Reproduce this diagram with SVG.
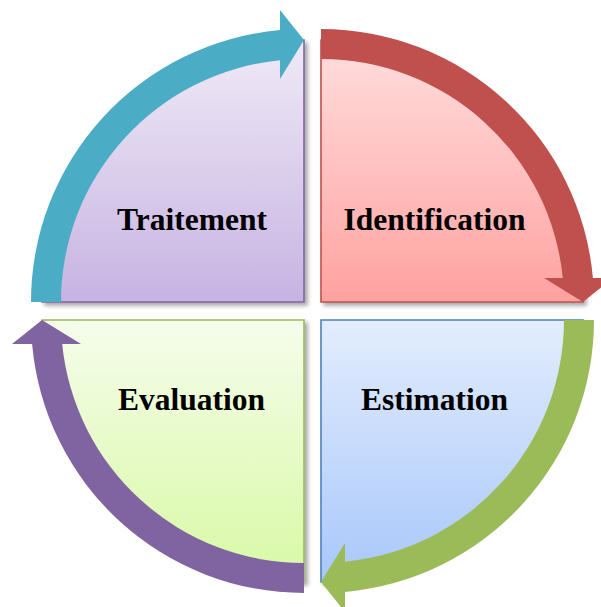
<svg xmlns="http://www.w3.org/2000/svg" width="601" height="607" viewBox="0 0 601 607">
<style>
.q{stroke-width:1.6;filter:url(#sh)}
.lbl{font-family:"Liberation Serif","Times New Roman",serif;font-weight:bold;font-size:31.5px;fill:#000;text-anchor:middle}
</style>
<defs>
<filter id="sh" x="-10%" y="-10%" width="125%" height="125%">
<feDropShadow dx="3" dy="3" stdDeviation="2.2" flood-color="#000" flood-opacity="0.35"/>
</filter>
<linearGradient id="gP" x1="0" y1="0" x2="0" y2="1"><stop offset="0" stop-color="#F0EAF7"/><stop offset="1" stop-color="#C7B3E2"/></linearGradient>
<linearGradient id="gR" x1="0" y1="0" x2="0" y2="1"><stop offset="0" stop-color="#FFDEDE"/><stop offset="1" stop-color="#FFA2A0"/></linearGradient>
<linearGradient id="gB" x1="0" y1="0" x2="0" y2="1"><stop offset="0" stop-color="#E3EDFD"/><stop offset="1" stop-color="#A8C7FB"/></linearGradient>
<linearGradient id="gG" x1="0" y1="0" x2="0" y2="1"><stop offset="0" stop-color="#F5FDEB"/><stop offset="1" stop-color="#D8F9A4"/></linearGradient>
</defs>
<g id="traitement">
<path class="q" d="M304,302 L42,302 A262,262 0 0 1 304,40 Z" fill="url(#gP)" stroke="#8064A2"/>
<text class="lbl" x="192" y="230">Traitement</text>
</g>
<g id="identification">
<path class="q" d="M321,302 L321,40 A262,262 0 0 1 583,302 Z" fill="url(#gR)" stroke="#C0504D"/>
<text class="lbl" x="434.5" y="230">Identification</text>
</g>
<g id="estimation">
<path class="q" d="M321,320 L583,320 A262,262 0 0 1 321,582 Z" fill="url(#gB)" stroke="#4F81BD"/>
<text class="lbl" x="434.5" y="410">Estimation</text>
</g>
<g id="evaluation">
<path class="q" d="M304,320 L304,582 A262,262 0 0 1 42,320 Z" fill="url(#gG)" stroke="#9BBB59"/>
<text class="lbl" x="191.5" y="410">Evaluation</text>
</g>
<g id="connectors">
<path d="M31,302 A273,273 0 0 1 280,30.1 L280,10 L304,40 L280,79 L280,60.2 A243,243 0 0 0 61,302 Z" fill="#4BACC6"/>
<path d="M321,29 A273,273 0 0 1 592.9,278 L613,278 L583,302 L544,278 L562.8,278 A243,243 0 0 0 321,59 Z" fill="#C0504D"/>
<path d="M594,320 A273,273 0 0 1 345,591.9 L345,612 L321,582 L345,543 L345,561.8 A243,243 0 0 0 564,320 Z" fill="#9BBB59"/>
<path d="M304,593 A273,273 0 0 1 32.1,344 L12,344 L42,320 L81,344 L62.2,344 A243,243 0 0 0 304,563 Z" fill="#8064A2"/>
</g>
</svg>
